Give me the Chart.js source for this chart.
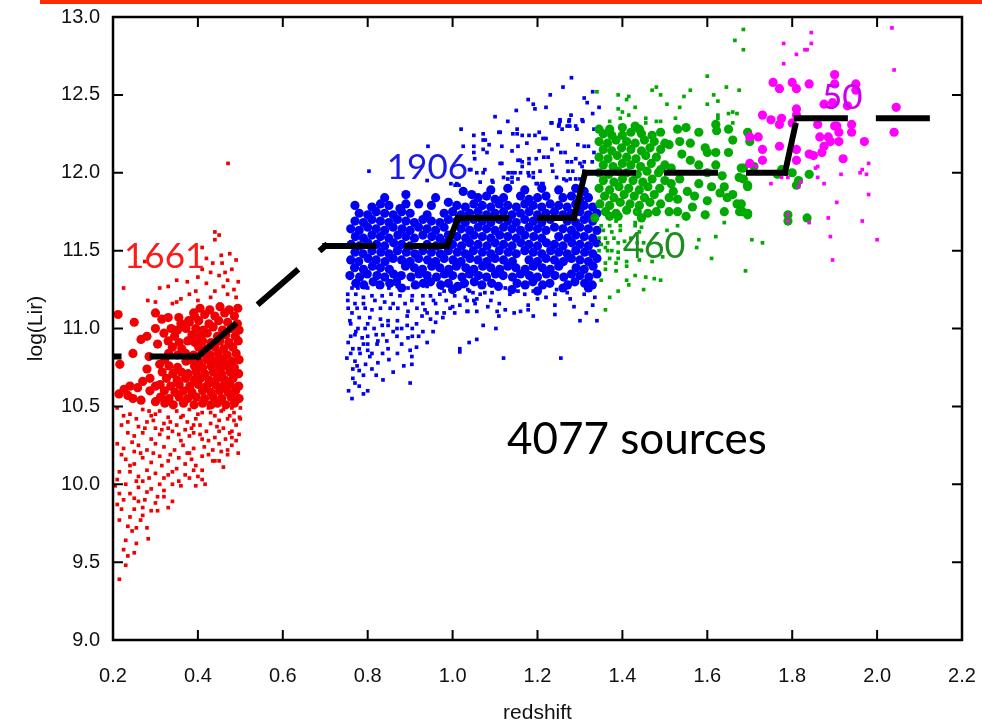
<!DOCTYPE html>
<html lang="en">
<head>
<meta charset="UTF-8">
<title>log(Lir) vs redshift</title>
<script src="https://cdn.jsdelivr.net/npm/chart.js"></script>
<style>
  body { margin: 0; background: #fff; overflow: hidden; }
  .wrap { position: absolute; left: 0; top: 0; width: 982px; height: 728px; }
  .slide-rule { position: absolute; left: 40px; top: 0; width: 942px; height: 4px; background: #ff2a00; }
</style>
</head>
<body>
<div class="wrap"><canvas id="lirChart" width="982" height="728"></canvas></div>
<div class="slide-rule"></div>
<script>
// axis ticks
const xTicks = [0.2, 0.4, 0.6, 0.8, 1.0, 1.2, 1.4, 1.6, 1.8, 2.0, 2.2];
const yTicks = [9.0, 9.5, 10.0, 10.5, 11.0, 11.5, 12.0, 12.5, 13.0];

// binned step line (redshift, log Lir), each segment restarts the dash
const stepZ = [0.1, 0.4, 0.7, 0.987, 1.013, 1.286, 1.312, 1.783, 1.811, 2.129];
const stepLir = [10.82, 10.82, 11.53, 11.53, 11.71, 11.71, 12.0, 12.0, 12.35, 12.35];

// [redshift, log(Lir)]
const redBig = [
  [0.212,11.09],[0.25,11.04],[0.266,10.93],[0.28,10.95],[0.247,10.84],[0.216,10.77],[0.28,10.74],[0.287,10.68],
  [0.27,10.66],[0.3,10.63],[0.214,10.58],[0.226,10.61],[0.24,10.63],[0.258,10.62],[0.266,10.54],[0.247,10.55],
  [0.287,10.6],[0.3,10.53],[0.235,10.57],[0.305,10.9],[0.3,11.0],[0.315,11.06],[0.33,11.07],[0.355,11.07],
  [0.378,11.05],[0.39,11.1],[0.3,11.1],[0.285,10.82],[0.31,10.77],[0.32,10.97],
  [0.405,11.13],[0.428,11.12],[0.452,11.14],[0.474,11.12],[0.494,11.13],
  [0.392,11.08],[0.416,11.09],[0.44,11.08],[0.463,11.1],[0.486,11.08],
  [0.36,11.03],[0.38,11.04],[0.402,11.05],[0.426,11.03],[0.449,11.05],[0.47,11.04],[0.493,11.03],
  [0.337,11.0],[0.352,10.99],[0.372,11.0],[0.395,11.0],[0.413,10.99],[0.436,11.01],[0.458,10.99],[0.479,11.0],[0.497,10.99],
  [0.345,10.95],[0.386,10.96],[0.404,10.95],[0.422,10.97],[0.446,10.95],[0.466,10.96],[0.488,10.95],
  [0.33,10.92],[0.356,10.91],[0.376,10.92],[0.393,10.91],[0.411,10.92],[0.431,10.91],[0.452,10.92],[0.473,10.91],[0.495,10.92],
  [0.34,10.88],[0.362,10.87],[0.402,10.88],[0.42,10.87],[0.44,10.88],[0.461,10.87],[0.482,10.88],
  [0.331,10.84],[0.352,10.83],[0.371,10.84],[0.39,10.83],[0.41,10.84],[0.429,10.83],[0.448,10.84],[0.469,10.83],[0.49,10.84],
  [0.322,10.8],[0.372,10.79],[0.386,10.8],[0.402,10.79],[0.421,10.8],[0.441,10.79],[0.458,10.8],[0.479,10.79],[0.497,10.8],
  [0.332,10.76],[0.352,10.75],[0.392,10.76],[0.411,10.75],[0.431,10.76],[0.451,10.75],[0.466,10.76],[0.486,10.75],
  [0.316,10.72],[0.341,10.71],[0.361,10.72],[0.377,10.71],[0.396,10.72],[0.416,10.71],[0.436,10.72],[0.456,10.71],[0.476,10.72],[0.496,10.71],
  [0.326,10.68],[0.351,10.67],[0.371,10.68],[0.391,10.67],[0.406,10.68],[0.426,10.67],[0.446,10.68],[0.464,10.67],[0.483,10.68],
  [0.311,10.64],[0.336,10.63],[0.356,10.64],[0.381,10.63],[0.401,10.64],[0.421,10.63],[0.441,10.64],[0.459,10.63],[0.476,10.64],[0.496,10.63],
  [0.321,10.6],[0.346,10.59],[0.366,10.6],[0.386,10.59],[0.411,10.6],[0.431,10.59],[0.451,10.6],[0.471,10.59],[0.489,10.6],
  [0.312,10.56],[0.332,10.55],[0.356,10.56],[0.376,10.55],[0.396,10.56],[0.416,10.55],[0.436,10.56],[0.456,10.55],[0.478,10.56],[0.497,10.55],
  [0.322,10.52],[0.342,10.51],[0.366,10.52],[0.391,10.51],[0.411,10.52],[0.431,10.51],[0.446,10.52],[0.466,10.51],[0.486,10.52]
];
const redSmall = [
  [0.471,12.06],[0.44,11.62],[0.45,11.6],[0.44,11.57],[0.41,11.52],[0.275,11.43],[0.225,11.26],[0.35,11.31],
  [0.33,11.27],[0.31,11.26],[0.375,11.3],[0.4,11.33],[0.41,11.38],[0.435,11.42],[0.457,11.42],[0.48,11.38],
  [0.47,11.31],[0.45,11.34],[0.42,11.29],[0.46,11.27],[0.485,11.25],[0.44,11.24],[0.47,11.22],[0.49,11.2],
  [0.43,11.2],[0.38,11.22],[0.36,11.19],[0.4,11.18],[0.34,11.16],[0.455,11.47],[0.475,11.48],[0.49,11.44],
  [0.42,11.45],[0.395,11.24],[0.282,11.18],[0.495,11.3],[0.464,11.36],[0.43,11.36],[0.3,11.17],[0.35,11.17],
  [0.21,10.49],[0.24,10.45],[0.27,10.48],[0.29,10.44],[0.31,10.47],[0.33,10.43],[0.35,10.47],[0.365,10.44],
  [0.38,10.48],[0.395,10.42],[0.41,10.46],[0.425,10.49],[0.44,10.44],[0.455,10.47],[0.47,10.42],[0.485,10.46],
  [0.5,10.49],[0.498,10.43],[0.48,10.49],[0.45,10.41],[0.43,10.39],[0.405,10.38],[0.375,10.4],[0.35,10.38],
  [0.32,10.39],[0.3,10.36],[0.28,10.4],[0.26,10.37],[0.235,10.4],[0.22,10.38],[0.34,10.34],[0.37,10.35],
  [0.39,10.33],[0.42,10.34],[0.46,10.36],[0.49,10.38],[0.475,10.33],[0.44,10.3],[0.41,10.29],[0.38,10.31],
  [0.36,10.28],[0.33,10.3],[0.31,10.32],[0.29,10.29],[0.27,10.33],[0.25,10.31],[0.235,10.33],[0.21,10.26],
  [0.225,10.23],[0.26,10.25],[0.28,10.22],[0.3,10.26],[0.32,10.24],[0.345,10.22],[0.365,10.25],[0.39,10.23],
  [0.415,10.24],[0.435,10.22],[0.45,10.26],[0.47,10.22],[0.48,10.3],[0.497,10.32],[0.47,10.19],[0.45,10.15],
  [0.435,10.15],[0.41,10.18],[0.385,10.16],[0.37,10.13],[0.355,10.17],[0.33,10.15],[0.31,10.18],[0.29,10.14],
  [0.27,10.17],[0.25,10.13],[0.23,10.16],[0.22,10.19],[0.215,10.08],[0.24,10.08],[0.26,10.05],[0.28,10.09],
  [0.3,10.07],[0.32,10.04],[0.34,10.08],[0.355,10.02],[0.37,10.06],[0.39,10.09],[0.4,10.05],[0.41,10.03],
  [0.417,10.0],[0.41,10.09],[0.34,10.0],[0.32,9.96],[0.305,9.92],[0.28,9.95],[0.29,9.97],[0.26,9.89],
  [0.275,9.9],[0.305,9.83],[0.29,9.83],[0.33,9.85],[0.34,9.89],[0.24,9.94],[0.215,9.94],[0.21,10.03],
  [0.23,10.0],[0.21,9.87],[0.22,9.84],[0.215,9.77],[0.245,9.7],[0.23,9.64],[0.225,9.58],[0.235,9.54],
  [0.25,9.56],[0.23,9.48],[0.215,9.39],[0.283,9.65],[0.28,9.72],[0.255,9.72],[0.265,9.77],[0.24,9.79],
  [0.25,9.84],[0.26,9.98],[0.205,9.99],[0.44,10.15],[0.48,10.25],[0.495,10.2],[0.46,10.11],[0.38,10.2],
  [0.36,9.99],[0.27,10.02],[0.25,10.21],[0.45,10.34],[0.43,10.46],[0.39,10.38],[0.33,10.36],[0.285,10.47],
  [0.225,10.44],[0.255,10.42],[0.275,10.36],[0.295,10.41],[0.315,10.35],[0.335,10.4],[0.355,10.32],[0.385,10.36],
  [0.405,10.32],[0.425,10.28],[0.445,10.37],[0.465,10.29],[0.485,10.41],[0.245,10.27],[0.265,10.2],[0.295,10.2],
  [0.315,10.12],[0.335,10.19],[0.35,10.1],[0.375,10.2],[0.395,10.12],[0.425,10.19],[0.455,10.21],[0.24,10.12],
  [0.255,10.02],[0.285,10.04],[0.31,10.0],[0.33,10.06],[0.38,10.04],[0.395,9.99],[0.3,9.88],[0.27,9.85],
  [0.25,9.91],[0.225,9.9],[0.235,9.73],[0.255,9.62],[0.27,9.8],[0.32,9.92],[0.48,10.34],[0.49,10.28],
  [0.5,10.42],[0.475,10.44],[0.46,10.48],[0.36,10.43],[0.4,10.45],[0.3,10.45]
];
const blueBig = [
  [0.772,11.29],[0.791,11.28],[0.813,11.3],[0.829,11.28],[0.852,11.29],[0.868,11.3],[0.912,11.28],[0.931,11.29],
  [0.948,11.3],[0.972,11.28],[0.99,11.29],[1.012,11.27],[1.028,11.29],[1.051,11.3],[1.069,11.28],[1.092,11.29],
  [1.108,11.27],[1.152,11.29],[1.171,11.28],[1.189,11.3],[1.212,11.28],[1.229,11.29],[1.271,11.28],[1.288,11.3],
  [1.311,11.29],[1.329,11.28],[0.88,11.26],[1.0,11.25],[1.14,11.25],[1.26,11.26],[1.2,11.24],[1.32,11.26],
  [0.758,11.34],[0.781,11.33],[0.799,11.35],[0.822,11.34],[0.84,11.33],[0.861,11.35],[0.879,11.34],[0.902,11.33],
  [0.921,11.35],[0.94,11.34],[0.962,11.33],[0.981,11.35],[1.0,11.34],[1.022,11.33],[1.04,11.35],[1.061,11.34],
  [1.08,11.33],[1.101,11.35],[1.119,11.34],[1.141,11.33],[1.16,11.35],[1.181,11.34],[1.2,11.33],[1.221,11.35],
  [1.241,11.34],[1.262,11.33],[1.28,11.35],[1.3,11.34],[1.321,11.33],[1.34,11.35],
  [0.769,11.39],[0.79,11.38],[0.811,11.4],[0.83,11.39],[0.851,11.38],[0.889,11.4],[0.91,11.39],[0.929,11.38],
  [0.951,11.4],[0.97,11.39],[0.991,11.38],[1.009,11.4],[1.031,11.39],[1.05,11.38],[1.071,11.4],[1.09,11.39],
  [1.111,11.38],[1.13,11.4],[1.149,11.39],[1.171,11.38],[1.19,11.4],[1.211,11.39],[1.23,11.38],[1.25,11.4],
  [1.291,11.39],[1.31,11.38],[1.331,11.4],
  [0.76,11.44],[0.779,11.43],[0.801,11.45],[0.82,11.44],[0.841,11.43],[0.86,11.45],[0.88,11.44],[0.9,11.43],
  [0.92,11.45],[0.941,11.44],[0.96,11.43],[0.98,11.45],[1.001,11.44],[1.02,11.43],[1.041,11.45],[1.06,11.44],
  [1.081,11.43],[1.1,11.45],[1.12,11.44],[1.141,11.43],[1.18,11.44],[1.2,11.43],[1.22,11.45],[1.24,11.44],
  [1.261,11.43],[1.28,11.45],[1.3,11.44],[1.32,11.43],[1.34,11.45],
  [0.77,11.49],[0.789,11.48],[0.81,11.5],[0.831,11.49],[0.85,11.48],[0.87,11.5],[0.891,11.49],[0.911,11.48],
  [0.93,11.5],[0.95,11.49],[0.971,11.48],[0.99,11.5],[1.011,11.49],[1.03,11.48],[1.049,11.5],[1.07,11.49],
  [1.09,11.48],[1.11,11.5],[1.131,11.49],[1.15,11.48],[1.17,11.5],[1.19,11.49],[1.21,11.48],[1.231,11.5],
  [1.25,11.49],[1.27,11.48],[1.29,11.5],[1.311,11.49],[1.33,11.48],
  [0.761,11.54],[0.78,11.53],[0.8,11.55],[0.821,11.54],[0.84,11.53],[0.861,11.55],[0.88,11.54],[0.9,11.53],
  [0.94,11.54],[0.961,11.53],[0.98,11.55],[1.0,11.54],[1.021,11.53],[1.04,11.55],[1.06,11.54],[1.081,11.53],
  [1.1,11.55],[1.12,11.54],[1.14,11.53],[1.161,11.55],[1.18,11.54],[1.2,11.53],[1.221,11.55],[1.24,11.54],
  [1.26,11.53],[1.281,11.55],[1.3,11.54],[1.32,11.53],[1.339,11.55],
  [0.771,11.59],[0.79,11.58],[0.81,11.6],[0.83,11.59],[0.85,11.58],[0.871,11.6],[0.89,11.59],[0.91,11.58],
  [0.93,11.6],[0.951,11.59],[0.97,11.58],[0.99,11.6],[1.01,11.59],[1.031,11.58],[1.05,11.6],[1.07,11.59],
  [1.09,11.58],[1.111,11.6],[1.13,11.59],[1.15,11.58],[1.17,11.6],[1.191,11.59],[1.21,11.58],[1.25,11.59],
  [1.271,11.58],[1.29,11.6],[1.31,11.59],[1.33,11.58],
  [0.76,11.64],[0.78,11.63],[0.8,11.65],[0.82,11.64],[0.84,11.63],[0.86,11.65],[0.881,11.64],[0.9,11.63],
  [0.92,11.65],[0.94,11.64],[0.96,11.63],[0.98,11.65],[1.02,11.64],[1.04,11.63],[1.06,11.65],[1.08,11.64],
  [1.1,11.63],[1.12,11.65],[1.14,11.64],[1.16,11.63],[1.18,11.65],[1.2,11.64],[1.22,11.63],[1.24,11.65],
  [1.26,11.64],[1.28,11.63],[1.3,11.65],[1.32,11.64],[1.34,11.63],
  [0.77,11.69],[0.79,11.68],[0.81,11.7],[0.83,11.69],[0.85,11.68],[0.87,11.7],[0.89,11.69],[0.91,11.68],
  [0.93,11.7],[0.95,11.69],[0.97,11.68],[0.99,11.7],[1.01,11.69],[1.03,11.68],[1.05,11.7],[1.07,11.69],
  [1.09,11.68],[1.11,11.7],[1.13,11.69],[1.15,11.68],[1.17,11.7],[1.19,11.69],[1.21,11.68],[1.23,11.7],
  [1.27,11.69],[1.29,11.68],[1.31,11.7],[1.33,11.69],
  [0.78,11.74],[0.8,11.73],[0.82,11.75],[0.84,11.74],[0.86,11.73],[0.88,11.75],[0.9,11.74],[0.94,11.73],
  [0.98,11.74],[1.0,11.75],[1.02,11.73],[1.04,11.74],[1.06,11.75],[1.08,11.73],[1.1,11.74],[1.12,11.75],
  [1.14,11.73],[1.16,11.74],[1.18,11.75],[1.2,11.73],[1.22,11.74],[1.24,11.75],[1.26,11.73],[1.28,11.74],
  [1.3,11.75],[1.32,11.73],[1.34,11.74],
  [0.77,11.79],[0.81,11.78],[0.83,11.8],[0.85,11.79],[0.876,11.77],[0.89,11.8],[0.92,11.8],[0.95,11.79],
  [0.99,11.81],[1.01,11.79],[1.03,11.78],[1.05,11.8],[1.07,11.79],[1.09,11.78],[1.11,11.8],[1.13,11.79],
  [1.15,11.78],[1.17,11.8],[1.19,11.79],[1.21,11.78],[1.23,11.8],[1.25,11.79],[1.27,11.78],[1.29,11.8],
  [1.31,11.79],[1.33,11.78],
  [0.84,11.84],[0.89,11.86],[0.96,11.84],[1.045,11.86],[1.06,11.84],[1.08,11.85],[1.1,11.83],[1.12,11.84],
  [1.16,11.85],[1.18,11.83],[1.2,11.84],[1.22,11.85],[1.26,11.84],[1.28,11.85],[1.3,11.83],[1.32,11.84],
  [1.025,11.88],[1.09,11.89],[1.13,11.9],[1.17,11.89],[1.21,11.9],[1.25,11.89],[1.29,11.9],[1.31,11.88]
];
const blueSmall = [
  [0.763,11.26],[0.777,11.26],[0.8,11.26],[0.824,11.27],[0.85,11.26],[0.87,11.27],[0.895,11.26],[0.918,11.27],
  [0.94,11.27],[0.975,11.26],[1.0,11.27],[1.025,11.27],[1.04,11.24],
  [0.753,11.22],[0.772,11.22],[0.79,11.2],[0.81,11.21],[0.834,11.21],[0.855,11.22],[0.876,11.21],[0.905,11.21],
  [0.93,11.21],[0.948,11.21],[0.98,11.24],[1.005,11.21],[1.03,11.2],[1.05,11.18],
  [0.753,11.18],[0.77,11.16],[0.79,11.16],[0.817,11.18],[0.84,11.17],[0.86,11.16],[0.888,11.16],[0.904,11.18],
  [0.93,11.16],[0.96,11.16],[0.994,11.13],[1.017,11.15],[1.034,11.11],[1.005,11.1],
  [0.754,11.13],[0.775,11.13],[0.794,11.13],[0.81,11.12],[0.83,11.13],[0.853,11.13],[0.871,11.13],[0.895,11.11],
  [0.916,11.13],[0.94,11.1],[0.963,11.1],[0.977,11.07],
  [0.763,11.1],[0.78,11.07],[0.805,11.07],[0.83,11.06],[0.848,11.05],[0.87,11.05],[0.893,11.08],[0.928,11.08],[0.948,11.06],
  [0.76,11.03],[0.777,11.0],[0.794,11.0],[0.8,11.03],[0.834,11.02],[0.848,11.02],[0.869,11.0],[0.893,11.02],[0.905,11.0],[0.954,10.98],
  [0.76,10.95],[0.77,10.96],[0.787,10.94],[0.8,10.95],[0.824,10.92],[0.836,10.96],[0.869,10.95],[0.895,10.94],
  [0.905,10.95],[0.92,10.95],[0.94,10.91],
  [0.754,10.91],[0.765,10.87],[0.78,10.87],[0.8,10.9],[0.822,10.9],[0.848,10.87],[0.88,10.9],[0.9,10.86],[0.904,10.82],
  [0.751,10.81],[0.77,10.79],[0.782,10.84],[0.8,10.86],[0.805,10.82],[0.824,10.78],[0.765,10.74],[0.78,10.73],
  [0.765,10.68],[0.836,10.67],[0.78,10.63],[0.763,10.55],[0.9,10.65],[0.904,10.77],[0.79,10.7],[0.81,10.74],
  [0.755,10.6],[0.8,10.6],
  [0.758,11.05],[0.772,10.98],[0.815,11.0],[0.82,10.96],[0.845,10.92],[0.86,10.98],[0.88,11.0],[0.915,11.03],
  [0.935,11.12],[0.955,11.18],[0.985,11.18],[0.97,11.22],[0.79,10.9],[0.81,10.84],[0.835,10.84],[0.76,10.84],
  [0.775,10.76],[0.795,10.77],[0.82,10.7],[0.77,10.65],[0.79,10.58],[0.85,10.8],[0.87,10.84],[0.885,10.76],
  [0.86,10.72],[0.915,10.88],[0.93,10.98],[0.96,11.04],[0.98,11.1],[1.0,11.14],
  [1.036,11.25],[1.048,11.23],[1.065,11.22],[1.076,11.23],[1.093,11.23],[1.057,11.19],[1.09,11.18],[1.124,11.26],
  [1.135,11.22],[1.154,11.24],[1.17,11.22],[1.19,11.24],[1.2,11.19],[1.245,11.25],[1.241,11.22],[1.27,11.23],
  [1.31,11.22],[1.324,11.25],[1.277,11.19],[1.11,11.16],[1.083,11.14],[1.053,11.16],[1.034,11.18],[1.036,11.11],
  [1.057,11.11],[1.105,11.11],[1.124,11.12],[1.145,11.1],[1.16,11.11],[1.178,11.15],[1.178,11.12],[1.241,11.15],
  [1.241,11.09],[1.286,11.14],[1.109,11.08],[1.072,11.02],[1.102,11.0],[1.039,10.91],[1.057,10.93],[1.017,10.87],
  [1.017,10.85],[1.255,10.81],[1.12,10.81],[1.3,11.05],[1.22,11.2],[1.19,11.08],[1.33,11.15],[1.315,11.1],
  [1.335,11.2],[1.34,11.05],
  [1.178,12.47],[1.317,12.45],[1.194,12.41],[1.279,12.37],[1.253,12.33],[1.274,12.33],[1.307,12.33],[1.232,12.32],
  [1.251,12.31],[1.276,12.3],[1.258,12.28],[1.293,12.28],[1.333,12.28],[1.152,12.28],[1.109,12.26],[1.142,12.25],
  [1.152,12.25],[1.164,12.24],[1.18,12.24],[1.194,12.24],[1.204,12.26],[1.05,12.24],[1.072,12.21],[1.086,12.18],
  [1.116,12.17],[1.154,12.17],[1.175,12.19],[1.213,12.22],[1.22,12.22],[1.234,12.15],[1.248,12.18],[1.265,12.13],
  [1.295,12.18],[1.31,12.17],[1.32,12.17],[1.333,12.13],[1.05,12.17],[1.05,12.13],[1.081,12.13],[1.204,12.14],
  [1.154,12.08],[1.164,12.07],[1.18,12.09],[1.197,12.09],[1.215,12.1],[1.225,12.1],[1.18,12.06],[1.164,12.04],
  [1.116,12.06],[1.234,12.05],[1.255,12.13],[1.27,12.07],[1.28,12.07],[1.29,12.09],[1.3,12.06],[1.31,12.07],
  [1.329,12.07],[1.043,12.02],[1.057,12.0],[1.076,12.02],[1.065,11.94],[1.093,11.95],[1.131,12.0],[1.16,12.0],
  [1.178,12.0],[1.19,12.0],[1.206,12.01],[1.236,12.01],[1.272,12.01],[1.283,12.01],[1.305,12.04],[1.2,11.93],
  [1.21,11.93],[1.245,11.97],[1.262,11.96],[1.268,11.95],[1.277,11.96],[1.29,11.96],[1.3,11.96],[1.307,11.93],
  [1.14,11.97],[1.154,11.96],
  [0.803,12.01],[0.94,11.95],[0.942,12.17],[1.02,12.28],[1.072,12.25],[1.077,12.21],[1.112,12.26],[1.14,12.14],
  [1.025,12.17],[1.072,12.15],[1.052,12.09],[1.04,12.02],[1.01,11.93],[1.006,11.92],[0.996,11.93],[1.015,11.92],
  [1.095,11.94],[1.072,12.0],[1.112,12.06],[1.159,12.08],[1.14,12.0],[1.147,12.0],[1.12,11.97],[1.13,11.96],
  [1.14,11.94],[1.18,11.98],[1.19,11.97],[1.197,11.93],[1.213,11.93],
  [1.234,12.32],[1.25,12.3],[1.27,12.3],[1.29,12.3],[1.253,12.34],[1.275,12.34],[1.305,12.34],
  [1.28,12.61],[1.26,12.55],[1.23,12.5],[1.33,12.52],[1.31,12.48],[1.19,12.44],[1.15,12.4],[1.345,12.42],
  [1.22,12.42],[1.1,12.36],[1.13,12.33],[1.33,12.38]
];
const greenBig = [
  [1.355,12.25],[1.375,12.24],[1.4,12.24],[1.42,12.26],[1.445,12.25],[1.47,12.24],[1.49,12.26],
  [1.345,12.2],[1.365,12.19],[1.385,12.21],[1.41,12.2],[1.43,12.19],[1.452,12.21],[1.475,12.2],[1.5,12.19],
  [1.355,12.15],[1.375,12.14],[1.398,12.16],[1.42,12.15],[1.445,12.14],[1.465,12.16],[1.49,12.15],
  [1.345,12.1],[1.366,12.09],[1.388,12.11],[1.41,12.1],[1.432,12.09],[1.455,12.11],[1.48,12.1],
  [1.355,12.05],[1.378,12.04],[1.4,12.06],[1.42,12.05],[1.443,12.04],[1.468,12.06],[1.5,12.05],
  [1.345,12.0],[1.368,11.99],[1.39,12.01],[1.41,12.0],[1.435,11.99],[1.458,12.01],[1.485,12.0],
  [1.355,11.95],[1.38,11.94],[1.4,11.96],[1.425,11.95],[1.448,11.94],[1.47,11.96],[1.5,11.95],
  [1.345,11.9],[1.37,11.89],[1.392,11.91],[1.415,11.9],[1.44,11.89],[1.46,11.91],[1.488,11.9],
  [1.358,11.85],[1.38,11.84],[1.404,11.86],[1.428,11.85],[1.452,11.84],[1.475,11.86],
  [1.347,11.8],[1.37,11.79],[1.395,11.81],[1.418,11.8],[1.44,11.79],[1.465,11.81],[1.49,11.8],
  [1.36,11.75],[1.385,11.74],[1.41,11.76],[1.435,11.75],[1.46,11.74],
  [1.335,11.71],[1.37,11.72],[1.39,11.72],[1.445,11.71],[1.48,11.75],
  [1.37,12.28],[1.43,12.3],[1.44,12.28],[1.4,12.29],[1.345,12.28],
  [1.53,12.28],[1.55,12.29],[1.62,12.31],[1.622,12.27],[1.65,12.28],[1.66,12.21],[1.695,12.26],[1.58,12.26],
  [1.56,12.19],[1.535,12.2],[1.51,12.18],[1.595,12.16],[1.6,12.13],[1.62,12.13],[1.65,12.13],[1.68,12.03],
  [1.675,11.97],[1.695,11.91],[1.64,11.91],[1.61,11.91],[1.63,11.87],[1.647,11.84],[1.66,11.86],[1.67,11.8],
  [1.695,11.74],[1.676,11.75],[1.64,11.75],[1.595,11.73],[1.55,11.72],[1.53,11.75],[1.565,11.78],[1.57,11.85],
  [1.553,11.88],[1.53,11.83],[1.51,11.84],[1.515,11.93],[1.535,11.96],[1.515,12.03],[1.49,12.02],[1.51,11.75],
  [1.58,12.05],[1.6,12.0],[1.56,12.08],[1.54,12.12],[1.62,12.05],[1.635,11.98],[1.58,11.93],[1.6,11.82],[1.52,11.88],
  [1.685,12.03],[1.685,11.96],[1.71,12.04],[1.695,11.92],[1.775,12.02],[1.8,12.0],[1.765,11.99],[1.84,11.99],
  [1.815,11.95],[1.81,11.92],[1.68,11.8],[1.683,11.75],[1.695,11.73],[1.79,11.73],[1.79,11.69],[1.835,11.71],[1.7,12.2]
];
const greenSmall = [
  [1.34,12.52],[1.39,12.5],[1.415,12.49],[1.41,12.47],[1.48,12.55],[1.47,12.53],[1.49,12.5],[1.56,12.53],
  [1.545,12.49],[1.615,12.5],[1.625,12.46],[1.6,12.44],[1.645,12.55],[1.675,12.53],[1.505,12.44],[1.535,12.42],
  [1.43,12.42],[1.39,12.41],[1.4,12.39],[1.415,12.37],[1.37,12.33],[1.395,12.35],[1.455,12.35],[1.48,12.33],
  [1.49,12.33],[1.455,12.32],[1.525,12.35],[1.625,12.37],[1.625,12.35],[1.65,12.38],[1.66,12.39],[1.67,12.38],
  [1.66,12.32],[1.685,12.92],[1.665,12.85],[1.685,12.79],[1.6,12.62],
  [1.64,11.68],[1.62,11.59],[1.58,11.57],[1.575,11.52],[1.61,11.45],[1.69,11.37],[1.53,11.66],[1.505,11.63],
  [1.495,11.46],[1.49,11.31],[1.475,11.32],[1.455,11.33],[1.43,11.34],[1.41,11.31],[1.39,11.24],[1.35,11.31],
  [1.36,11.38],[1.385,11.37],[1.41,11.4],[1.47,11.43],[1.44,11.44],[1.41,11.43],[1.385,11.42],[1.36,11.42],
  [1.37,11.45],[1.39,11.45],[1.39,11.49],[1.375,11.5],[1.365,11.5],[1.345,11.5],[1.36,11.52],[1.39,11.55],
  [1.365,11.55],[1.35,11.54],[1.345,11.58],[1.36,11.58],[1.38,11.58],[1.405,11.56],[1.42,11.58],[1.435,11.55],
  [1.45,11.55],[1.445,11.5],[1.355,11.63],[1.375,11.62],[1.395,11.63],[1.35,11.66],[1.37,11.66],[1.395,11.66],
  [1.385,11.69],[1.43,11.68],[1.43,11.66],[1.445,11.65],[1.44,11.62],[1.73,11.55],[1.705,11.57],[1.415,11.28],
  [1.37,11.2],[1.45,11.25],[1.36,11.12]
];
const magentaBig = [
  [1.755,12.58],[1.77,12.54],[1.8,12.58],[1.81,12.54],[1.84,12.57],[1.9,12.63],[1.9,12.57],[1.95,12.57],
  [1.95,12.53],[1.875,12.44],[1.895,12.45],[1.93,12.43],[2.045,12.42],[2.04,12.26],[1.81,12.41],[1.81,12.37],
  [1.73,12.37],[1.75,12.34],[1.775,12.35],[1.77,12.31],[1.8,12.32],[1.86,12.31],[1.9,12.3],[1.905,12.3],
  [1.94,12.31],[1.91,12.26],[1.94,12.26],[1.7,12.23],[1.72,12.23],[1.865,12.23],[1.885,12.23],[1.89,12.2],
  [1.91,12.2],[1.97,12.2],[1.875,12.17],[1.73,12.15],[1.77,12.17],[1.81,12.15],[1.87,12.13],[1.84,12.12],
  [1.85,12.11],[1.73,12.08],[1.81,12.08],[1.92,12.09],[1.7,12.06]
];
const magentaSmall = [
  [1.845,12.9],[1.78,12.83],[1.845,12.83],[1.83,12.79],[1.835,12.79],[1.81,12.76],[1.78,12.7],[2.035,12.93],
  [2.04,12.66],[1.98,12.06],[1.965,12.02],[1.96,12.0],[1.975,11.99],[1.915,11.99],[1.86,12.04],[1.855,12.03],
  [1.86,11.97],[1.875,11.93],[1.75,11.93],[1.82,11.94],[1.815,11.91],[1.79,11.97],[1.98,11.86],[1.905,11.81],
  [1.885,11.71],[1.84,11.68],[1.79,11.69],[1.79,11.73],[1.965,11.69],[1.89,11.59],[2.0,11.57],[1.895,11.44],
  [1.715,12.04],[1.775,11.97]
];

// sample counts written on the plot
const notes = [
  { text: '1661', z: 0.226, lir: 11.39, color: '#ff1a1a', size: 35 },
  { text: '1906', z: 0.845, lir: 11.96, color: '#1a1ae6', size: 35 },
  { text: '460', z: 1.401, lir: 11.455, color: '#1e8c1e', size: 36 },
  { text: '50', z: 1.87, lir: 12.41, color: '#cc00f0', size: 35 },
  { text: '4077 sources', z: 1.128, lir: 10.195, color: '#000', size: 44 }
];

const toPts = arr => arr.map(([x, y]) => ({ x, y }));

function dotSet(data, color, big, order) {
  const r = big ? 4.6 : 2.6;
  return {
    data: toPts(data),
    backgroundColor: color,
    borderWidth: 0,
    pointStyle: big ? 'circle' : 'rect',
    pointRadius: r,
    pointHoverRadius: r,
    order: order
  };
}

const stepSegments = stepZ.slice(0, -1).map((z, i) => ({
  data: [{ x: z, y: stepLir[i] }, { x: stepZ[i + 1], y: stepLir[i + 1] }],
  showLine: true,
  borderColor: '#000',
  borderWidth: 6,
  borderDash: [48, 34],
  borderCapStyle: 'square',
  pointRadius: 0,
  clip: 0,
  order: 0
}));

const framePlugin = {
  id: 'frame',
  afterDatasetsDraw(chart) {
    const { ctx, chartArea: a, scales: { x, y } } = chart;
    ctx.save();
    ctx.strokeStyle = '#000';
    ctx.lineWidth = 2;
    ctx.beginPath();
    xTicks.forEach(v => {
      const px = x.getPixelForValue(v);
      ctx.moveTo(px, a.bottom); ctx.lineTo(px, a.bottom - 10);
      ctx.moveTo(px, a.top); ctx.lineTo(px, a.top + 10);
    });
    yTicks.forEach(v => {
      const py = y.getPixelForValue(v);
      ctx.moveTo(a.left, py); ctx.lineTo(a.left + 10, py);
      ctx.moveTo(a.right, py); ctx.lineTo(a.right - 10, py);
    });
    ctx.stroke();
    ctx.lineWidth = 2.5;
    ctx.strokeRect(a.left, a.top, a.right - a.left, a.bottom - a.top);

    // count labels
    ctx.textAlign = 'left';
    ctx.textBaseline = 'alphabetic';
    notes.forEach(n => {
      ctx.fillStyle = n.color;
      ctx.font = n.size + 'px Lato';
      ctx.fillText(n.text, x.getPixelForValue(n.z), y.getPixelForValue(n.lir));
    });

    // axis titles
    ctx.fillStyle = '#111';
    ctx.font = '21px "Liberation Sans"';
    ctx.textAlign = 'center';
    ctx.textBaseline = 'middle';
    ctx.fillText('redshift', (a.left + a.right) / 2, 713);
    ctx.translate(36, (a.top + a.bottom) / 2);
    ctx.rotate(-Math.PI / 2);
    ctx.fillText('log(Lir)', 0, 0);
    ctx.restore();
  }
};

const tickFont = { family: 'Liberation Sans', size: 20 };

new Chart(document.getElementById('lirChart'), {
  type: 'scatter',
  data: {
    datasets: [
      ...stepSegments,
      dotSet(magentaBig, 'rgb(255,0,255)', true, 1),
      dotSet(magentaSmall, 'rgb(255,0,255)', false, 2),
      dotSet(greenBig, 'rgb(0,170,0)', true, 3),
      dotSet(greenSmall, 'rgb(0,170,0)', false, 4),
      dotSet(blueBig, 'rgb(0,0,245)', true, 5),
      dotSet(blueSmall, 'rgb(0,0,245)', false, 6),
      dotSet(redBig, 'rgb(240,0,0)', true, 7),
      dotSet(redSmall, 'rgb(240,0,0)', false, 8)
    ]
  },
  options: {
    responsive: false,
    animation: false,
    devicePixelRatio: 1,
    layout: { padding: { top: 17, right: 20, left: 0, bottom: 0 }, autoPadding: false },
    plugins: { legend: { display: false }, tooltip: { enabled: false } },
    scales: {
      x: {
        type: 'linear',
        min: 0.2,
        max: 2.2,
        afterBuildTicks: s => { s.ticks = xTicks.map(v => ({ value: v })); },
        afterFit: s => { s.height = 88; s.paddingLeft = 0; s.paddingRight = 0; },
        grid: { display: false, drawTicks: false },
        border: { display: false },
        ticks: { padding: 24, color: '#111', font: tickFont, callback: v => v.toFixed(1) }
      },
      y: {
        type: 'linear',
        min: 9,
        max: 13,
        afterBuildTicks: s => { s.ticks = yTicks.map(v => ({ value: v })); },
        afterFit: s => { s.width = 113; s.paddingTop = 0; s.paddingBottom = 0; },
        grid: { display: false, drawTicks: false },
        border: { display: false },
        ticks: { padding: 13, color: '#111', font: tickFont, callback: v => v.toFixed(1) }
      }
    }
  },
  plugins: [framePlugin]
});
</script>
</body>
</html>
